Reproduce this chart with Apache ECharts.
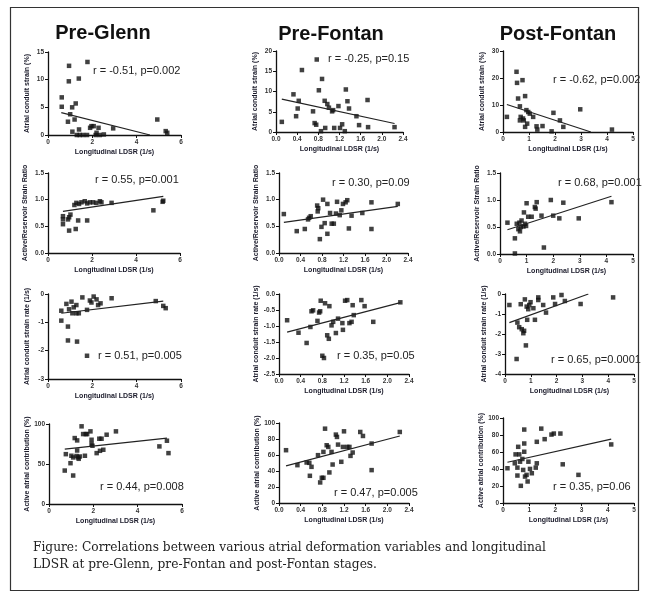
<!DOCTYPE html>
<html><head><meta charset="utf-8">
<script src="https://cdn.jsdelivr.net/npm/echarts@6/dist/echarts.min.js"></script>
<style>html,body{margin:0;padding:0;background:#fff}#c{width:649px;height:597px}</style>
</head><body><div id="c"></div>
<script>
// ---------- data ----------
const stages = ['Pre-Glenn', 'Pre-Fontan', 'Post-Fontan'];
const yNames = ['Atrial conduit strain (%)', 'Active/Reservoir Strain Ratio', 'Atrial conduit strain rate (1/s)', 'Active atrial contribution (%)'];
const xName = 'Longitudinal LDSR (1/s)';
const stats = [
  'r = -0.51, p=0.002', 'r = -0.25, p=0.15', 'r = -0.62, p=0.002',
  'r = 0.55, p=0.001', 'r = 0.30, p=0.09', 'r = 0.68, p=0.001',
  'r = 0.51, p=0.005', 'r = 0.35, p=0.05', 'r = 0.65, p=0.0001',
  'r = 0.44, p=0.008', 'r = 0.47, p=0.005', 'r = 0.35, p=0.06'
];
const caption = ['Figure: Correlations between various atrial deformation variables and longitudinal',
  'LDSR at pre-Glenn, pre-Fontan and post-Fontan stages.'];

// x-axis scale per column [min, max, step]
const xScales = [[0, 6, 2], [0, 2.4, 0.4], [0, 5, 1]];
// y-axis scale per panel [min, max, step]
const yScales = [
  [0, 15, 5], [0, 20, 5], [0, 30, 10],
  [0, 1.5, 0.5], [0, 1.5, 0.5], [0, 1.5, 0.5],
  [-3, 0, 1], [-2.5, 0, 0.5], [-4, 0, 1],
  [0, 100, 50], [0, 100, 20], [0, 100, 20]
];

const p1 = [[0.95,12.5],[1.78,13.2],[0.94,9.7],[1.39,10.2],[0.62,6.8],[0.62,5.1],[1.25,5.7],[1.09,5.0],[1.0,3.75],[1.2,2.8],[0.9,2.4],[1.4,1.0],[1.1,0.6],[1.9,1.3],[1.96,1.6],[2.06,1.6],[2.28,1.3],[2.94,1.2],[1.3,0],[1.43,0],[1.58,0],[1.76,0],[2.15,0],[2.34,0],[2.52,0.1],[2.19,0.4],[4.93,2.8],[5.31,0.7],[5.38,0.4]];
const p2 = [[0.77,17.9],[0.49,15.3],[0.87,13.1],[0.81,10.3],[0.33,9.3],[1.32,10.5],[0.43,7.7],[0.92,7.7],[0.97,6.9],[1.18,6.4],[1.35,7.6],[1.73,7.9],[0.41,5.8],[0.70,5.1],[1.0,6.0],[1.08,5.4],[1.06,5.1],[1.38,5.8],[0.38,3.9],[1.52,3.9],[0.11,2.5],[0.73,2.2],[0.76,1.8],[1.25,1.9],[1.57,1.7],[1.74,1.2],[0.93,1.0],[1.1,1.0],[1.21,1.0],[0.85,0.2],[1.3,0.2],[2.24,1.2]];
const p3 = [[0.15,5.6],[0.52,22.3],[0.54,18.2],[0.75,19.2],[0.85,13.3],[0.58,12.4],[0.65,9.5],[0.9,8.1],[0.97,7.4],[1.03,6.8],[0.68,5.6],[0.77,5.0],[0.65,4.3],[1.16,5.6],[1.94,7.1],[2.97,8.4],[2.19,4.3],[2.32,1.9],[0.93,3.1],[0.85,1.9],[1.29,2.1],[1.32,0.9],[1.52,2.2],[1.87,0.25],[4.19,0.9],[0.8,4.3]];
const p4 = [[0.68,0.69],[0.68,0.63],[0.68,0.54],[0.91,0.63],[0.96,0.67],[1.02,0.72],[0.96,0.42],[1.26,0.45],[1.37,0.61],[1.78,0.61],[1.29,0.94],[1.41,0.92],[1.52,0.95],[1.67,0.97],[1.78,0.93],[1.9,0.95],[2.05,0.95],[2.2,0.94],[2.36,0.97],[2.43,0.95],[2.89,0.94],[4.79,0.8],[5.21,0.96],[5.24,0.98],[1.2,0.9]];
const p5 = [[0.09,0.73],[0.33,0.41],[0.48,0.45],[0.54,0.63],[0.56,0.66],[0.59,0.69],[0.73,0.84],[0.71,0.89],[0.72,0.78],[0.76,0.26],[0.82,1.0],[0.79,0.49],[0.85,0.56],[0.9,0.92],[0.9,0.36],[0.95,0.75],[0.98,0.55],[1.02,0.55],[1.06,0.74],[1.08,0.96],[1.13,0.71],[1.16,0.8],[1.19,0.92],[1.24,0.95],[1.27,0.99],[1.3,0.46],[1.35,0.7],[1.55,0.75],[1.72,0.95],[1.72,0.45],[2.21,0.92]];
const p6 = [[0.28,0.58],[0.56,0.29],[0.56,0.01],[0.69,0.46],[0.75,0.42],[0.73,0.58],[0.81,0.62],[0.88,0.51],[0.94,0.56],[0.98,0.52],[0.9,0.77],[1.0,0.94],[1.06,0.69],[1.19,0.69],[1.31,0.87],[1.34,0.84],[1.38,0.96],[1.56,0.71],[1.65,0.12],[1.91,1.0],[2.0,0.71],[2.23,0.66],[2.38,0.95],[2.96,0.66],[4.19,0.96],[0.78,0.5],[0.63,0.56]];
const p7 = [[0.6,-0.59],[0.6,-0.94],[0.83,-0.35],[0.9,-1.15],[0.9,-1.64],[0.95,-0.54],[1.06,-0.27],[1.16,-0.47],[1.28,-0.68],[1.28,-0.39],[1.39,-0.68],[1.31,-1.68],[1.55,-0.12],[1.76,-0.56],[1.76,-2.18],[1.89,-0.23],[1.96,-0.3],[2.06,-0.09],[2.19,-0.19],[2.26,-0.39],[2.37,-0.33],[2.87,-0.15],[4.86,-0.25],[5.2,-0.42],[5.31,-0.5],[1.1,-0.68]];
const p8 = [[0.15,-0.82],[0.36,-1.21],[0.51,-1.53],[0.58,-1.03],[0.6,-0.54],[0.63,-0.51],[0.71,-0.84],[0.74,-0.58],[0.77,-0.21],[0.76,-0.54],[0.8,-1.93],[0.83,-2.0],[0.85,-0.29],[0.89,-1.29],[0.92,-1.4],[0.93,-0.38],[0.97,-0.98],[1.0,-0.87],[1.05,-1.22],[1.09,-0.77],[1.17,-0.91],[1.18,-1.12],[1.22,-0.21],[1.26,-0.19],[1.3,-0.91],[1.34,-0.87],[1.36,-0.35],[1.38,-0.66],[1.52,-0.19],[1.58,-0.38],[1.74,-0.87],[2.24,-0.26]];
const p9 = [[0.17,-0.55],[0.45,-3.25],[0.48,-1.43],[0.55,-1.66],[0.61,-0.51],[0.65,-1.76],[0.71,-1.96],[0.74,-1.84],[0.77,-0.27],[0.81,-2.57],[0.84,-0.63],[0.86,-1.29],[0.9,-0.76],[0.94,-0.55],[0.99,-0.41],[1.1,-0.71],[1.16,-1.29],[1.29,-0.17],[1.29,-0.3],[1.48,-0.55],[1.59,-0.93],[1.87,-0.17],[1.94,-0.5],[2.19,-0.05],[2.32,-0.35],[2.93,-0.5],[4.19,-0.17]];
const p10 = [[0.71,41.8],[0.76,62.3],[0.97,51.0],[1.01,60.3],[1.09,58.2],[1.09,35.6],[1.16,82.4],[1.27,79.5],[1.27,66.9],[1.31,58.2],[1.39,59.4],[1.34,56.5],[1.47,97.1],[1.54,87.4],[1.62,60.3],[1.66,87.4],[1.72,87.4],[1.87,90.8],[1.92,74.9],[1.92,80.3],[1.96,72.8],[2.15,63.6],[2.27,81.6],[2.3,66.5],[2.37,81.6],[2.45,67.8],[2.6,86.6],[3.02,90.8],[4.98,72.0],[5.32,79.1],[5.39,63.6],[1.24,60.0]];
const p11 = [[0.13,66.0],[0.34,47.3],[0.51,50.6],[0.56,50.2],[0.57,34.0],[0.6,45.2],[0.72,59.8],[0.76,25.7],[0.79,31.5],[0.82,31.5],[0.82,63.9],[0.85,92.9],[0.88,72.2],[0.91,70.1],[0.93,38.2],[0.97,63.9],[0.99,48.1],[1.05,85.5],[1.07,82.6],[1.09,73.0],[1.15,51.5],[1.18,70.1],[1.2,89.6],[1.26,70.1],[1.3,70.1],[1.32,58.9],[1.36,63.1],[1.5,88.8],[1.55,83.8],[1.71,74.3],[1.71,41.1],[2.23,88.8]];
const p12 = [[0.17,40.9],[0.45,46.7],[0.48,57.2],[0.55,41.6],[0.55,32.3],[0.58,66.1],[0.62,57.2],[0.65,48.6],[0.68,20.2],[0.74,51.8],[0.77,38.9],[0.81,70.0],[0.81,86.4],[0.81,60.3],[0.84,31.1],[0.9,33.1],[0.94,25.3],[0.97,48.6],[1.03,40.1],[1.1,35.0],[1.25,41.6],[1.29,46.7],[1.29,72.0],[1.46,87.5],[1.59,75.1],[1.85,80.5],[1.94,81.7],[2.19,81.7],[2.28,45.5],[2.88,33.1],[4.13,68.9]];
const points = [p1, p2, p3, p4, p5, p6, p7, p8, p9, p10, p11, p12];

// regression line end points
const fits = [
  [[0.6,4.05],[4.6,0]], [[0.11,8.1],[2.24,2.1]], [[0.15,10.2],[3.38,0]],
  [[0.68,0.78],[5.24,1.06]], [[0.09,0.575],[2.21,0.875]], [[0.28,0.45],[4.19,1.07]],
  [[0.6,-0.68],[5.2,-0.25]], [[0.15,-1.19],[2.24,-0.27]], [[0.17,-1.43],[3.23,0]],
  [[0.71,68.6],[5.32,82.4]], [[0.13,46.5],[2.23,83.8]], [[0.17,47.9],[4.13,75.1]]
];

// ---------- layout ----------
const gridBoxes = [ // [left, top, width, height]
  [48, 52, 133, 83], [276, 51, 127, 81], [503, 51, 130, 81],
  [48, 173, 132, 80], [279, 173, 129, 80], [500, 173, 133, 81],
  [48, 294, 133, 85], [279, 294, 130, 80], [505, 294, 129, 80],
  [49, 424, 133, 80], [279, 423, 130, 80], [503, 418, 131, 85]
];
const xDec = [0, 1, 0];
const yDec = [0,0,0, 1,1,1, 0,1,0, 0,0,0];
const statPos = [[93,71],[328,59],[553,80],[95,180],[332,183],[558,183],[98,356],[337,356],[551,360],[100,487],[334,493],[553,487]];
const titlePos = [[103,33],[331,34],[558,34]];

const INK = '#111';
const grids = [], xAxes = [], yAxes = [], series = [], graphics = [];
for (let i = 0; i < 12; i++) {
  const col = i % 3, row = Math.floor(i / 3);
  const b = gridBoxes[i];
  grids.push({ left: b[0], top: b[1], width: b[2], height: b[3] });
  const xs = xScales[col], ys = yScales[i];
  const axisCommon = {
    axisLine: { show: true, onZero: false, lineStyle: { color: INK, width: 1.3 } },
    axisTick: { show: true, length: 3, lineStyle: { color: INK, width: 1 } },
    splitLine: { show: false },
    nameLocation: 'middle',
    nameTextStyle: { fontSize: 7, fontWeight: 'bold', color: '#1a1a2a', fontFamily: 'Liberation Sans, Arial, sans-serif' }
  };
  xAxes.push(Object.assign({}, axisCommon, {
    type: 'value', gridIndex: i, min: xs[0], max: xs[1], interval: xs[2],
    name: xName, nameGap: 14,
    axisLabel: { fontSize: 6.5, fontWeight: 'bold', color: '#333', margin: 4,
      fontFamily: 'Liberation Sans, Arial, sans-serif',
      formatter: v => Number(v).toFixed(xDec[col]) }
  }));
  yAxes.push(Object.assign({}, axisCommon, {
    type: 'value', gridIndex: i, min: ys[0], max: ys[1], interval: ys[2],
    name: yNames[row], nameGap: yDec[i] ? 19 : 17,
    axisLabel: { fontSize: 6.5, fontWeight: 'bold', color: '#333', margin: 4,
      fontFamily: 'Liberation Sans, Arial, sans-serif',
      formatter: v => Number(v).toFixed(yDec[i]) }
  }));
  series.push({
    type: 'scatter', xAxisIndex: i, yAxisIndex: i, data: points[i],
    symbol: 'rect', symbolSize: 4.5, itemStyle: { color: INK }, silent: true
  });
  series.push({
    type: 'line', xAxisIndex: i, yAxisIndex: i, data: fits[i],
    showSymbol: false, symbol: 'none', lineStyle: { color: '#222', width: 1.2 }, silent: true
  });
  graphics.push({
    type: 'text', x: statPos[i][0], y: statPos[i][1],
    style: { text: stats[i], fill: '#222', font: '11px "Liberation Sans", Arial, sans-serif', textVerticalAlign: 'middle' }
  });
}
for (let c = 0; c < 3; c++) {
  graphics.push({
    type: 'text', x: titlePos[c][0], y: titlePos[c][1],
    style: { text: stages[c], fill: '#111', font: 'bold 20px "Liberation Sans", Arial, sans-serif', textAlign: 'center', textVerticalAlign: 'middle' }
  });
}
graphics.push({ type: 'rect', shape: { x: 10.5, y: 7.5, width: 628, height: 583 }, style: { fill: 'none', stroke: '#333', lineWidth: 1.2 } });
caption.forEach((t, k) => graphics.push({
  type: 'text', x: 33, y: 548 + k * 17,
  style: { text: t, fill: '#222', font: '12.2px "DejaVu Serif", "Liberation Serif", serif', textVerticalAlign: 'middle' }
}));

const chart = echarts.init(document.getElementById('c'), null, { renderer: 'canvas' });
chart.setOption({
  backgroundColor: '#fff',
  animation: false,
  grid: grids, xAxis: xAxes, yAxis: yAxes, series: series,
  graphic: graphics
});
</script></body></html>
